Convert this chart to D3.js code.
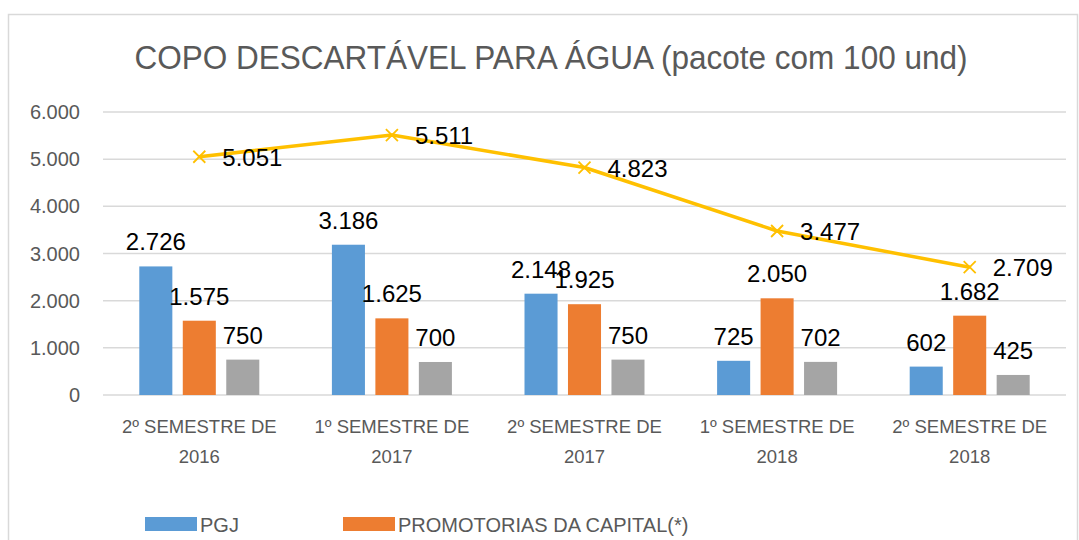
<!DOCTYPE html>
<html>
<head>
<meta charset="utf-8">
<style>
    body { margin: 0; background: white; }
    text { font-family: "Liberation Sans", Arial, sans-serif; }
    .grid line { stroke: #d9d9d9; stroke-width: 1.5; }
    .tick-label { fill: #595959; font-size: 20px; }
    .cat-label { fill: #595959; font-size: 18.5px; }
    .val-label { fill: #000; font-size: 24px; }
</style>
</head>
<body>
<script src="https://cdn.jsdelivr.net/npm/d3@7"></script>
<script>
    var categories = ["2º SEMESTRE DE|2016", "1º SEMESTRE DE|2017", "2º SEMESTRE DE|2017", "1º SEMESTRE DE|2018", "2º SEMESTRE DE|2018"];
    var seriesNames = ["PGJ", "PROMOTORIAS DA CAPITAL(*)", "PROMOTORIAS DO INTERIOR"];
    var pgj = [2726, 3186, 2148, 725, 602];
    var capital = [1575, 1625, 1925, 2050, 1682];
    var interior = [750, 700, 750, 702, 425];
    var total = [5051, 5511, 4823, 3477, 2709];
    var yTicks = [0, 1000, 2000, 3000, 4000, 5000, 6000];
    var colors = ["#5b9bd5", "#ed7d31", "#a5a5a5"];
    var lineColor = "#ffc000";

    var width = 1079, height = 540;
    var fmt = function(v) { return d3.format(",")(v).replace(/,/g, "."); };

    var svg = d3.select("body").append("svg")
            .attr("width", width)
            .attr("height", height);

    // chart frame
    svg.append("rect")
            .attr("x", 8.5).attr("y", 14.5)
            .attr("width", 1069).attr("height", 540)
            .attr("fill", "white")
            .attr("stroke", "#d9d9d9")
            .attr("stroke-width", 1.5);

    svg.append("text")
            .attr("x", 551).attr("y", 69)
            .attr("text-anchor", "middle")
            .attr("fill", "#595959")
            .style("font-size", "33px")
            .attr("textLength", 833)
            .attr("lengthAdjust", "spacingAndGlyphs")
            .text("COPO DESCARTÁVEL PARA ÁGUA (pacote com 100 und)");

    var x0 = d3.scaleBand().domain(categories).range([103, 1066]).padding(0);
    var x1 = d3.scaleBand().domain(seriesNames).range([-60, 60]).paddingInner(0.24);
    var y = d3.scaleLinear().domain([0, 6000]).range([395, 112]);

    svg.append("g").attr("class", "grid")
            .selectAll("line").data(yTicks).enter()
            .append("line")
            .attr("x1", 103).attr("x2", 1066)
            .attr("y1", function(d) { return y(d); })
            .attr("y2", function(d) { return y(d); });

    svg.append("g").selectAll("text").data(yTicks).enter()
            .append("text")
            .attr("class", "tick-label")
            .attr("x", 80)
            .attr("y", function(d) { return y(d) + 7; })
            .attr("text-anchor", "end")
            .text(function(d) { return fmt(d); });

    // category labels, two lines
    var cats = svg.append("g").selectAll("text").data(categories).enter()
            .append("text")
            .attr("class", "cat-label")
            .attr("text-anchor", "middle");
    cats.append("tspan")
            .attr("x", function(d) { return x0(d) + x0.bandwidth() / 2; })
            .attr("y", 433)
            .text(function(d) { return d.split("|")[0]; });
    cats.append("tspan")
            .attr("x", function(d) { return x0(d) + x0.bandwidth() / 2; })
            .attr("y", 463)
            .text(function(d) { return d.split("|")[1]; });

    var barSeries = [pgj, capital, interior];
    barSeries.forEach(function(vals, si) {
        var name = seriesNames[si];
        var g = svg.append("g");
        g.selectAll("rect").data(vals).enter()
                .append("rect")
                .attr("x", function(d, i) { return x0(categories[i]) + x0.bandwidth() / 2 + x1(name); })
                .attr("y", function(d) { return y(d); })
                .attr("width", x1.bandwidth())
                .attr("height", function(d) { return y(0) - y(d); })
                .attr("fill", colors[si]);
        g.selectAll("text").data(vals).enter()
                .append("text")
                .attr("class", "val-label")
                .attr("text-anchor", "middle")
                .attr("x", function(d, i) { return x0(categories[i]) + x0.bandwidth() / 2 + x1(name) + x1.bandwidth() / 2; })
                .attr("y", function(d) { return y(d) - 16; })
                .text(function(d) { return fmt(d); });
    });

    // total line
    var cx = function(d, i) { return x0(categories[i]) + x0.bandwidth() / 2; };
    var line = d3.line()
            .x(cx)
            .y(function(d) { return y(d); });
    svg.append("path")
            .datum(total)
            .attr("d", line)
            .attr("fill", "none")
            .attr("stroke", lineColor)
            .attr("stroke-width", 3.5)
            .attr("stroke-linejoin", "round");

    var marks = svg.append("g").selectAll("g").data(total).enter()
            .append("g")
            .attr("transform", function(d, i) { return "translate(" + cx(d, i) + "," + y(d) + ")"; });
    marks.append("path")
            .attr("d", "M-6,-6L6,6M-6,6L6,-6")
            .attr("stroke", lineColor)
            .attr("stroke-width", 1.8);
    marks.append("text")
            .attr("class", "val-label")
            .attr("x", 23)
            .attr("y", 9)
            .text(function(d) { return fmt(d); });

    // legend (visible part)
    var legend = svg.append("g").selectAll("g").data([0, 1]).enter()
            .append("g")
            .attr("transform", function(d) { return "translate(" + [145, 343][d] + ",517)"; });
    legend.append("rect")
            .attr("width", 52).attr("height", 14)
            .attr("fill", function(d) { return colors[d]; });
    legend.append("text")
            .attr("x", 55).attr("y", 15)
            .attr("fill", "#595959")
            .style("font-size", "20px")
            .text(function(d) { return seriesNames[d]; });
</script>
</body>
</html>
